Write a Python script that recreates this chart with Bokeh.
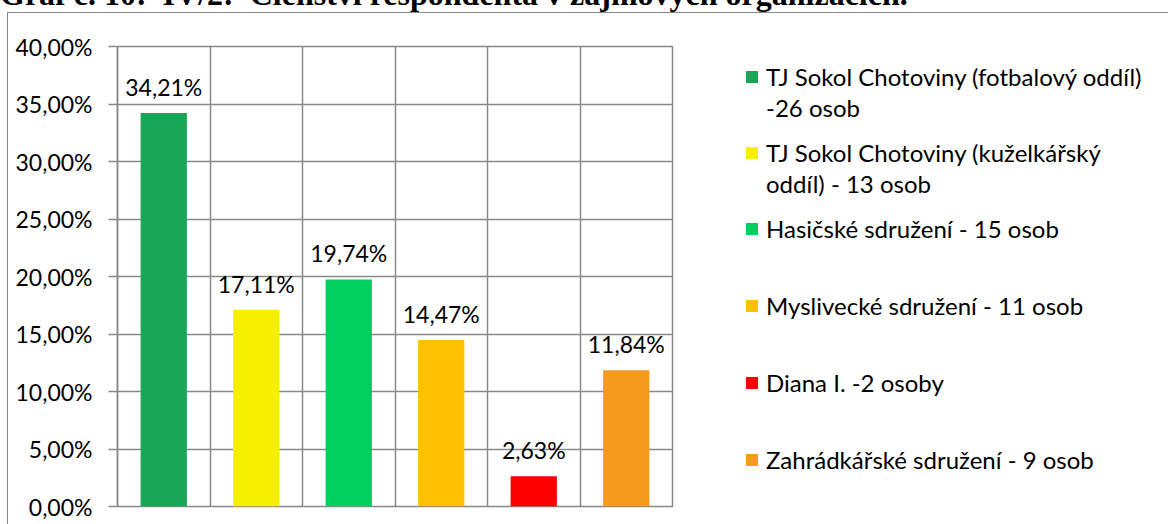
from bokeh.plotting import figure
from bokeh.models import (Range1d, FixedTicker, CustomJSTickFormatter, Legend, LegendItem,
                          ColumnDataSource, Grid, Div, Row, Column)
from bokeh.embed import file_html
from bokeh.resources import INLINE
from bokeh.core.properties import value

# ---- data ----
title_text = "Graf č. 10:\u00a0 IV/2:\u00a0 Členství respondenta v zájmových organizacích."
categories = [
    "TJ Sokol Chotoviny (fotbalový oddíl) -26 osob",
    "TJ Sokol Chotoviny (kuželkářský oddíl) - 13 osob",
    "Hasičské sdružení - 15 osob",
    "Myslivecké sdružení - 11 osob",
    "Diana I. -2 osoby",
    "Zahrádkářské sdružení - 9 osob",
]
legend_lines = [
    ["TJ Sokol Chotoviny (fotbalový oddíl)", "-26 osob"],
    ["TJ Sokol Chotoviny (kuželkářský", "oddíl) - 13 osob"],
    ["Hasičské sdružení - 15 osob"],
    ["Myslivecké sdružení - 11 osob"],
    ["Diana I. -2 osoby"],
    ["Zahrádkářské sdružení - 9 osob"],
]
shares = [34.21, 17.11, 19.74, 14.47, 2.63, 11.84]
share_labels = ["34,21%", "17,11%", "19,74%", "14,47%", "2,63%", "11,84%"]
colors = ["#18A755", "#F7EF00", "#00CE5E", "#FFC000", "#FF0000", "#F59A1C"]
y_ticks = [0, 5, 10, 15, 20, 25, 30, 35, 40]

FONT = "Lato"
FSIZE = "23px"
LSIZE = "24px"
GRID = "#888888"

n = len(categories)
src = ColumnDataSource(dict(
    x=[i + 0.5 for i in range(n)],
    share=shares,
    label=share_labels,
    color=colors,
))

# ---- chart figure ----
p = figure(width=694, height=511, x_range=Range1d(0, n), y_range=Range1d(0, 40),
           output_backend="svg", toolbar_location=None, x_axis_location=None,
           min_border_left=109, min_border_right=30, min_border_top=33, min_border_bottom=18)
p.grid.visible = False
p.outline_line_color = GRID
p.outline_line_width = 1.5

p.add_layout(Grid(dimension=1, ticker=FixedTicker(ticks=y_ticks),
                  grid_line_color=GRID, grid_line_width=1.5))
p.add_layout(Grid(dimension=0, ticker=FixedTicker(ticks=list(range(n + 1))),
                  grid_line_color=GRID, grid_line_width=1.5))

ya = p.yaxis[0]
ya.ticker = FixedTicker(ticks=y_ticks)
ya.formatter = CustomJSTickFormatter(code="return tick.toFixed(2).replace('.', ',') + '%';")
ya.major_label_text_font = FONT
ya.major_label_text_font_size = FSIZE
ya.major_label_text_color = "black"
ya.axis_line_color = GRID
ya.axis_line_width = 1.5
ya.major_tick_line_color = GRID
ya.major_tick_line_width = 1.5
ya.major_tick_out = 9
ya.major_tick_in = 0
ya.minor_tick_out = 0
ya.minor_tick_in = 0
ya.major_label_standoff = 16

p.vbar(x="x", top="share", width=0.5, fill_color="color", line_color=None, source=src)
p.text(x="x", y="share", text="label", source=src, text_align="center", text_baseline="middle",
       y_offset=-26, text_font=value(FONT), text_font_size=FSIZE, text_color="black")

# ---- legend figure (its bars lie outside its own range; only the legend shows) ----
q = figure(width=466, height=511, x_range=Range1d(-3, -2), y_range=Range1d(0, 40),
           output_backend="svg", toolbar_location=None, x_axis_location=None, y_axis_location=None,
           min_border=0, outline_line_color=None)
q.grid.visible = False
swatch = q.vbar(x="x", top="share", width=0.5, fill_color="color", line_color=None, source=src)
ghost = q.vbar(x="x", top="share", width=0.5, fill_alpha=0, line_alpha=0, source=src)

def make_legend(items, loc, spacing):
    lg = Legend(items=items, location=loc, padding=0, margin=0, spacing=spacing,
                glyph_width=15, glyph_height=15, label_standoff=7, label_height=31,
                label_text_font=FONT, label_text_font_size=LSIZE, label_text_color="black",
                border_line_alpha=0, background_fill_alpha=0)
    q.add_layout(lg)

make_legend([LegendItem(label=legend_lines[0][0], renderers=[swatch], index=0),
             LegendItem(label=legend_lines[0][1], renderers=[ghost])], (42, 383.5), 0)
make_legend([LegendItem(label=legend_lines[1][0], renderers=[swatch], index=1),
             LegendItem(label=legend_lines[1][1], renderers=[ghost])], (42, 307.5), 0)
make_legend([LegendItem(label=legend_lines[i][0], renderers=[swatch], index=i) for i in range(2, n)],
            (42, 31.5), 46)

# ---- title (cut off at the top, as in the source) ----
title = Div(text=('<div style="height: 12px; overflow: hidden;">'
                  '<div style="position: relative; top: -22px; font-family: \'Liberation Serif\'; '
                  'font-weight: bold; font-size: 32px; line-height: 32px; white-space: nowrap;">'
                  + title_text + '</div></div>'),
            width=1168, height=12, margin=0, styles={"overflow": "hidden"})

body = Row(children=[p, q], spacing=0, margin=0,
           styles={"margin-left": "7px", "border-left": "1px solid #888888",
                   "border-top": "1px solid #888888"})
layout = Column(children=[title, body], spacing=0, margin=0)

open("out.html", "w").write(file_html(layout, INLINE))
